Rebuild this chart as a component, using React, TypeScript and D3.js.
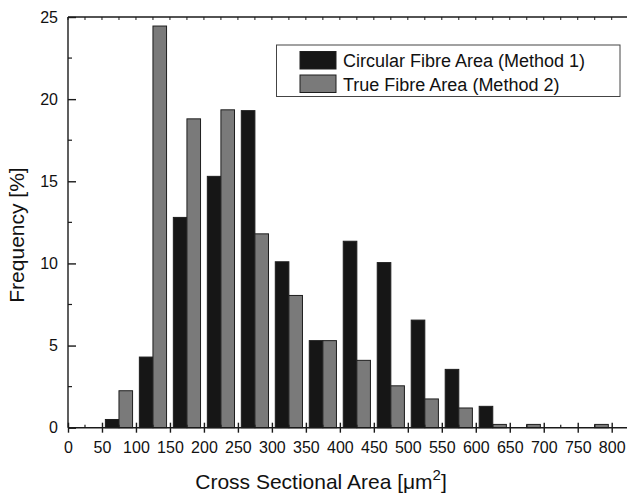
import React, { useEffect, useRef } from 'react';
import * as d3 from 'd3';

// bin centres (µm²) and frequencies (%)
const binCentres = [75, 125, 175, 225, 275, 325, 375, 425, 475, 525, 575, 625, 675, 725, 775];
const circularArea = [0.5, 4.3, 12.8, 15.3, 19.3, 10.1, 5.3, 11.35, 10.05, 6.55, 3.55, 1.3, 0, 0, 0];
const trueArea = [2.25, 24.45, 18.8, 19.35, 11.8, 8.05, 5.3, 4.1, 2.55, 1.75, 1.2, 0.2, 0.2, 0, 0.2];

const xTicks = [0, 50, 100, 150, 200, 250, 300, 350, 400, 450, 500, 550, 600, 650, 700, 750, 800];
const xMinorTicks = [25, 75, 125, 175, 225, 275, 325, 375, 425, 475, 525, 575, 625, 675, 725, 775, 825];
const yTicks = [0, 5, 10, 15, 20, 25];
const yMinorTicks = [2.5, 7.5, 12.5, 17.5, 22.5];

const seriesNames = ['Circular Fibre Area (Method 1)', 'True Fibre Area (Method 2)'];
const seriesColors = ['#161616', '#7a7a7a'];

const App = () => {
    const svgRef = useRef(null);

    useEffect(() => {
        if (!svgRef.current) return;
        d3.select(svgRef.current).selectAll('*').remove();

        const width = 627;
        const height = 498;
        const left = 68, right = 628.7, top = 17, bottom = 427.7;
        const font = '"Liberation Sans", Arial, sans-serif';

        const svg = d3.select(svgRef.current)
            .attr('width', width)
            .attr('height', height)
            .style('font-family', font);

        const x = d3.scaleLinear().domain([0, 825]).range([left, right]);
        const y = d3.scaleLinear().domain([0, 25]).range([bottom, top]);
        const barW = x(20) - x(0);

        // Bars
        const series = [circularArea, trueArea];
        series.forEach((vals, si) => {
            svg.append('g')
                .selectAll('rect')
                .data(vals.map((v, i) => ({ c: binCentres[i], v })).filter(d => d.v > 0))
                .enter()
                .append('rect')
                .attr('x', d => si === 0 ? x(d.c - 20) : x(d.c))
                .attr('y', d => y(d.v))
                .attr('width', barW)
                .attr('height', d => y(0) - y(d.v))
                .attr('fill', seriesColors[si])
                .attr('stroke', '#1e1e1e')
                .attr('stroke-width', 1);
        });

        // Bottom axis
        const xAxis = svg.append('g')
            .attr('transform', `translate(0, ${bottom})`)
            .call(d3.axisBottom(x).tickValues(xTicks).tickSize(5).tickPadding(9).tickSizeOuter(0));
        xAxis.select('.domain').remove();
        xAxis.selectAll('.tick line').attr('y1', -5).attr('y2', 5).attr('stroke', '#1a1a1a').attr('stroke-width', 1.4);
        xAxis.selectAll('.tick text').style('font-size', '16px').style('font-family', font).attr('fill', '#111');
        svg.append('line')
            .attr('x1', left).attr('x2', right).attr('y1', bottom).attr('y2', bottom)
            .attr('stroke', '#1a1a1a').attr('stroke-width', 1.4);
        svg.append('g')
            .selectAll('line')
            .data(xMinorTicks)
            .enter()
            .append('line')
            .attr('x1', d => x(d)).attr('x2', d => x(d))
            .attr('y1', bottom).attr('y2', bottom - 3)
            .attr('stroke', '#1a1a1a').attr('stroke-width', 1.2);

        // Top line with small ticks
        svg.append('line')
            .attr('x1', left).attr('x2', right).attr('y1', top).attr('y2', top)
            .attr('stroke', '#1a1a1a').attr('stroke-width', 1.4);
        svg.append('g')
            .selectAll('line')
            .data(xTicks.concat(xMinorTicks))
            .enter()
            .append('line')
            .attr('x1', d => x(d)).attr('x2', d => x(d))
            .attr('y1', top).attr('y2', top + 3)
            .attr('stroke', '#1a1a1a').attr('stroke-width', 1);

        // Left axis
        const yAxis = svg.append('g')
            .attr('transform', `translate(${left}, 0)`)
            .call(d3.axisLeft(y).tickValues(yTicks).tickSize(-8).tickPadding(10).tickSizeOuter(0));
        yAxis.select('.domain').remove();
        yAxis.selectAll('.tick line').attr('stroke', '#1a1a1a').attr('stroke-width', 1.4);
        yAxis.selectAll('.tick text').style('font-size', '16px').style('font-family', font).attr('fill', '#111');
        svg.append('line')
            .attr('x1', left).attr('x2', left).attr('y1', top).attr('y2', bottom)
            .attr('stroke', '#1a1a1a').attr('stroke-width', 1.4);
        svg.append('g')
            .selectAll('line')
            .data(yMinorTicks)
            .enter()
            .append('line')
            .attr('x1', left).attr('x2', left + 4)
            .attr('y1', d => y(d)).attr('y2', d => y(d))
            .attr('stroke', '#1a1a1a').attr('stroke-width', 1.2);

        // Axis titles
        svg.append('text')
            .attr('transform', 'translate(24, 235) rotate(-90)')
            .attr('text-anchor', 'middle')
            .style('font-size', '21px')
            .attr('fill', '#111')
            .text('Frequency [%]');

        const xt = svg.append('text')
            .attr('x', 321)
            .attr('y', 489)
            .attr('text-anchor', 'middle')
            .style('font-size', '21px')
            .attr('fill', '#111');
        xt.append('tspan').text('Cross Sectional Area [\u03bcm');
        xt.append('tspan').attr('dy', -9).style('font-size', '15px').text('2');
        xt.append('tspan').attr('dy', 9).text(']');

        // Legend
        const legend = svg.append('g');
        legend.append('rect')
            .attr('x', 276.5).attr('y', 45)
            .attr('width', 343.5).attr('height', 51.5)
            .attr('fill', 'white')
            .attr('stroke', '#444').attr('stroke-width', 1);
        seriesNames.forEach((name, i) => {
            const row = legend.append('g').attr('transform', `translate(300, ${51.5 + i * 23.5})`);
            row.append('rect')
                .attr('width', 36).attr('height', 17.5)
                .attr('fill', seriesColors[i])
                .attr('stroke', '#1e1e1e').attr('stroke-width', 1);
            row.append('text')
                .attr('x', 43).attr('y', 15.5)
                .style('font-size', '18px')
                .attr('fill', '#111')
                .text(name);
        });
    }, []);

    return (
        <div style={{ position: 'absolute', left: 0, top: 0 }}>
            <svg ref={svgRef} style={{ display: 'block' }}></svg>
        </div>
    );
};

export default App;
